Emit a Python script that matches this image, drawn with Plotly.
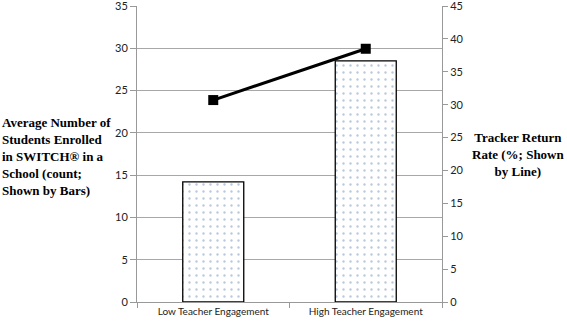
import plotly.graph_objects as go

categories = ["Low Teacher Engagement", "High Teacher Engagement"]
enrolled = [14.2, 28.5]
return_rate = [30.7, 38.5]

left_title = ["Average Number of", "Students Enrolled", "in SWITCH® in a", "School (count;", "Shown by Bars)"]
right_title = ["Tracker Return", "Rate (%; Shown", "by Line)"]

fig = go.Figure()
fig.add_trace(go.Bar(
    x=categories, y=enrolled, yaxis="y",
    marker=dict(color="white", line=dict(color="black", width=1.3),
                pattern=dict(shape=".", fgcolor="#7393b8", bgcolor="white", size=7, solidity=0.09)),
    width=0.4, showlegend=False,
))
fig.add_trace(go.Scatter(
    x=categories, y=return_rate, yaxis="y2", mode="lines+markers",
    line=dict(color="black", width=3),
    marker=dict(symbol="square", size=10, color="black"),
    showlegend=False,
))

tickfont = dict(family="Lato, Open Sans, sans-serif", size=11, color="#222")
fig.update_layout(
    width=567, height=323,
    margin=dict(l=137, r=125, t=6, b=21),
    paper_bgcolor="white", plot_bgcolor="white",
    xaxis=dict(type="category", tickfont=dict(family="Lato, sans-serif", size=10, color="#222"),
               showline=True, linecolor="#999", linewidth=1, automargin=False,
               ticks="outside", tickson="boundaries", ticklen=5, tickcolor="#999", showgrid=False),
    yaxis=dict(range=[0, 35], dtick=5, tickfont=tickfont, showline=True, linecolor="#999", linewidth=1,
               ticks="outside", ticklen=6, tickcolor="#999", showgrid=True, gridcolor="#a8a8a8",
               gridwidth=1, zeroline=False, automargin=False, ticklabeloverflow="allow"),
    yaxis2=dict(range=[0, 45], dtick=5, tickfont=tickfont, overlaying="y", side="right",
                showline=True, linecolor="#999", linewidth=1, ticks="outside", ticklen=5,
                tickcolor="#999", showgrid=False, zeroline=False, automargin=False,
                ticklabeloverflow="allow"),
)

titlefont = dict(family="Liberation Serif, Times New Roman, serif", size=13, color="black")
fig.add_annotation(text="<b>" + "<br>".join(left_title) + "</b>", xref="paper", yref="paper",
                   x=-137/305, xanchor="left", y=0.49, yanchor="middle", align="left",
                   showarrow=False, font=titlefont)
fig.add_annotation(text="<b>" + "<br>".join(right_title) + "</b>", xref="paper", yref="paper",
                   x=(518-137)/305, xanchor="center", y=0.50, yanchor="middle", align="center",
                   showarrow=False, font=titlefont)

fig.write_html("out.html", config={"displayModeBar": False},
               post_script="document.body.style.margin='0';document.body.style.overflow='hidden';")
